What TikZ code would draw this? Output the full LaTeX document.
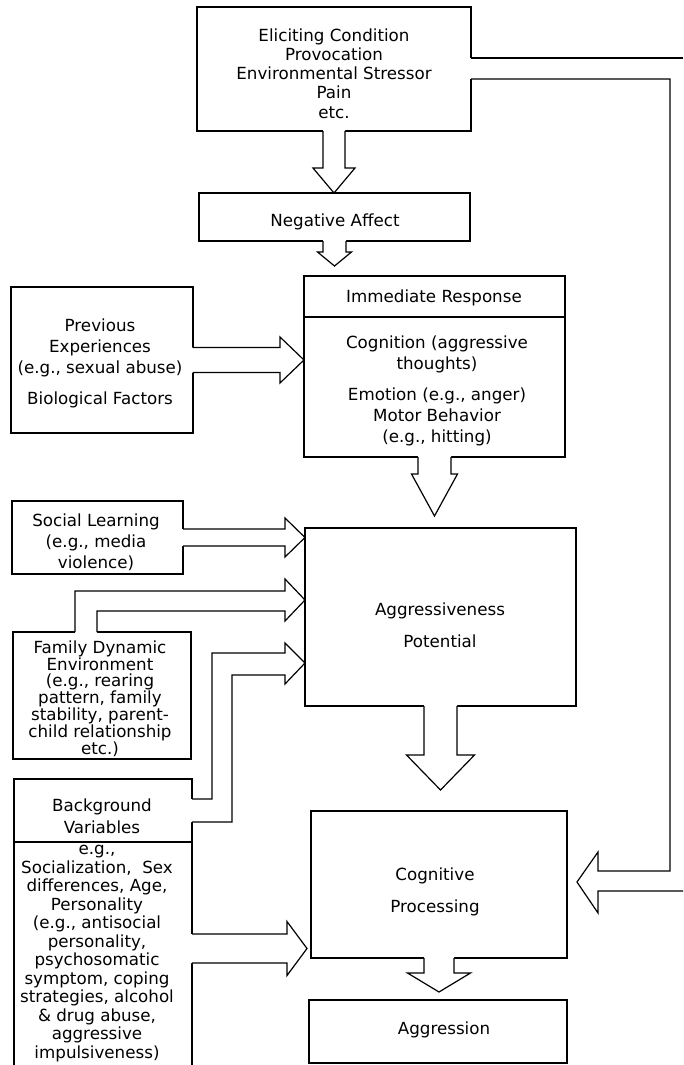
\documentclass[tikz,border=0pt]{standalone}
\usepackage{fontspec}
\setmainfont{DejaVu Sans}
\newcommand{\vfatarrow}[5]{%
  \begin{scope}[shift={(#1)}]
    \fill[white] (-#2,-1.5) -- (-#2,#3) -- (-#4,#3) -- (0,{#3+#5}) -- (#4,#3) -- (#2,#3) -- (#2,-1.5) -- cycle;
    \draw[ln] (-#2,0) -- (-#2,#3) -- (-#4,#3) -- (0,{#3+#5}) -- (#4,#3) -- (#2,#3) -- (#2,0);
  \end{scope}}
\newcommand{\hfatarrow}[5]{%
  \begin{scope}[shift={(#1)}]
    \fill[white] (-1.5,-#2) -- (#3,-#2) -- (#3,-#4) -- ({#3+#5},0) -- (#3,#4) -- (#3,#2) -- (-1.5,#2) -- cycle;
    \draw[ln] (0,-#2) -- (#3,-#2) -- (#3,-#4) -- ({#3+#5},0) -- (#3,#4) -- (#3,#2) -- (0,#2);
  \end{scope}}
\begin{document}
\begin{tikzpicture}[x=1pt,y=-1pt,
  ln/.style={line width=1.2pt, line join=miter},
  box/.style={draw, line width=1.2pt, inner sep=0pt, outer sep=0pt},
  txt/.style={inner sep=0pt, align=center, font=\fontsize{16.7}{19.2}\selectfont}]
\fill[white] (0,0) rectangle (683,1065);
\useasboundingbox (0,0) rectangle (683,1065);

% boxes
\node[box, minimum width=274pt, minimum height=124pt] (elic) at (334,69) {};
\node[box, minimum width=271pt, minimum height=48pt] (neg) at (334.5,217) {};
\node[box, minimum width=261pt, minimum height=41pt] (immhead) at (434.5,296.5) {};
\node[box, minimum width=261pt, minimum height=140pt] (immbody) at (434.5,387) {};
\node[box, minimum width=182pt, minimum height=146pt] (pe) at (102,360) {};
\node[box, minimum width=171pt, minimum height=73pt] (sl) at (97.5,537.5) {};
\node[box, minimum width=271pt, minimum height=178pt] (agg) at (440.5,617) {};
\node[box, minimum width=178pt, minimum height=127pt] (fam) at (102,695.5) {};
\node[box, minimum width=178pt, minimum height=63pt] (bghead) at (103,810.5) {};
\node[inner sep=0pt, outer sep=0pt, minimum width=178pt, minimum height=225pt] (bgbody) at (103,954.5) {};
\draw[ln] (bgbody.south west) -- (bgbody.north west) -- (bgbody.north east) -- (bgbody.south east);
\node[box, minimum width=256pt, minimum height=147pt] (cog) at (439,884.5) {};
\node[box, minimum width=258pt, minimum height=63pt] (aggr) at (438,1031.5) {};

% texts
\node[txt] (elictxt) at (334,73.5) {Eliciting Condition\\Provocation\\Environmental Stressor\\Pain\\etc.};
\node[txt] (negtxt) at (335,222) {Negative Affect};
\node[txt] (immheadtxt) at (434,298) {Immediate Response};
\node[txt, font=\fontsize{16.7}{21}\selectfont] (immtxt) at (437,390.5) {Cognition (aggressive\\thoughts)\\[10pt]Emotion (e.g., anger)\\Motor Behavior\\(e.g., hitting)};
\node[txt, font=\fontsize{16.7}{21}\selectfont] (petxt) at (100,363.5) {Previous\\Experiences\\(e.g., sexual abuse)\\[10pt]Biological Factors};
\node[txt, font=\fontsize{16.7}{21}\selectfont] (sltxt) at (96,542) {Social Learning\\(e.g., media\\violence)};
\node[txt, font=\fontsize{16.7}{32}\selectfont] (aggtxt) at (440,625) {Aggressiveness\\Potential};
\node[txt, font=\fontsize{16.7}{16.8}\selectfont] (famtxt) at (100,698.5) {Family Dynamic\\Environment\\(e.g., rearing\\pattern, family\\stability, parent-\\child relationship\\etc.)};
\node[txt, font=\fontsize{16.7}{22}\selectfont] (bgheadtxt) at (102,816) {Background\\Variables};
\node[txt, font=\fontsize{16.7}{18.5}\selectfont] (bgtxt) at (97,953.5) {e.g.,\\Socialization,~ Sex\\differences, Age,\\Personality\\(e.g., antisocial\\personality,\\psychosomatic\\symptom, coping\\strategies, alcohol\\\& drug abuse,\\aggressive\\impulsiveness)};
\node[txt, font=\fontsize{16.7}{32}\selectfont] (cogtxt) at (435,892) {Cognitive\\Processing};
\node[txt] (aggrtxt) at (444,1030) {Aggression};

% vertical fat arrows
\vfatarrow{elic.south}{11}{37}{21}{25}
\vfatarrow{neg.south}{11.5}{11}{17}{14}
\vfatarrow{immbody.south}{16.5}{17}{23}{42}
\vfatarrow{agg.south}{16.5}{49}{34}{35}
\vfatarrow{cog.south}{15}{15}{31.5}{19}

% horizontal fat arrows
\hfatarrow{pe.east}{12.5}{87}{23}{24}
\hfatarrow{sl.east}{8.5}{102}{19.5}{20}
\coordinate (bgout) at (192,948.5);
\hfatarrow{bgout}{14.5}{95}{27}{20}

% family -> aggressiveness (bent)
\begin{scope}[shift={(fam.north)}]
  \fill[white] (-27,1.5) -- (-27,-41) -- (183,-41) -- (183,-53) -- (203,-32) -- (183,-11) -- (183,-21) -- (-5,-21) -- (-5,1.5) -- cycle;
  \draw[ln] (-27,0) -- (-27,-41) -- (183,-41) -- (183,-53) -- (203,-32) -- (183,-11) -- (183,-21) -- (-5,-21) -- (-5,0);
\end{scope}

% background -> aggressiveness (bent)
\begin{scope}[shift={(bghead.east)}]
  \fill[white] (-1.5,-11.5) -- (20,-11.5) -- (20,-157.5) -- (93,-157.5) -- (93,-167.5) -- (113,-147.5) -- (93,-126.5) -- (93,-135.5) -- (40,-135.5) -- (40,11.5) -- (-1.5,11.5) -- cycle;
  \draw[ln] (0,-11.5) -- (20,-11.5) -- (20,-157.5) -- (93,-157.5) -- (93,-167.5) -- (113,-147.5) -- (93,-126.5) -- (93,-135.5) -- (40,-135.5) -- (40,11.5) -- (0,11.5);
\end{scope}

% feedback from eliciting condition to cognitive processing
\begin{scope}[shift={(elic.east)}]
  \fill[white] (-1.5,-11) rectangle (3,10);
  \draw[ln] (0,-11) -- (212,-11);
  \draw[ln] (0,10) -- (199,10) -- (199,802) -- (127,802) -- (127,783) -- (106,813) -- (127,844) -- (127,822) -- (212,822);
\end{scope}
\end{tikzpicture}
\end{document}
